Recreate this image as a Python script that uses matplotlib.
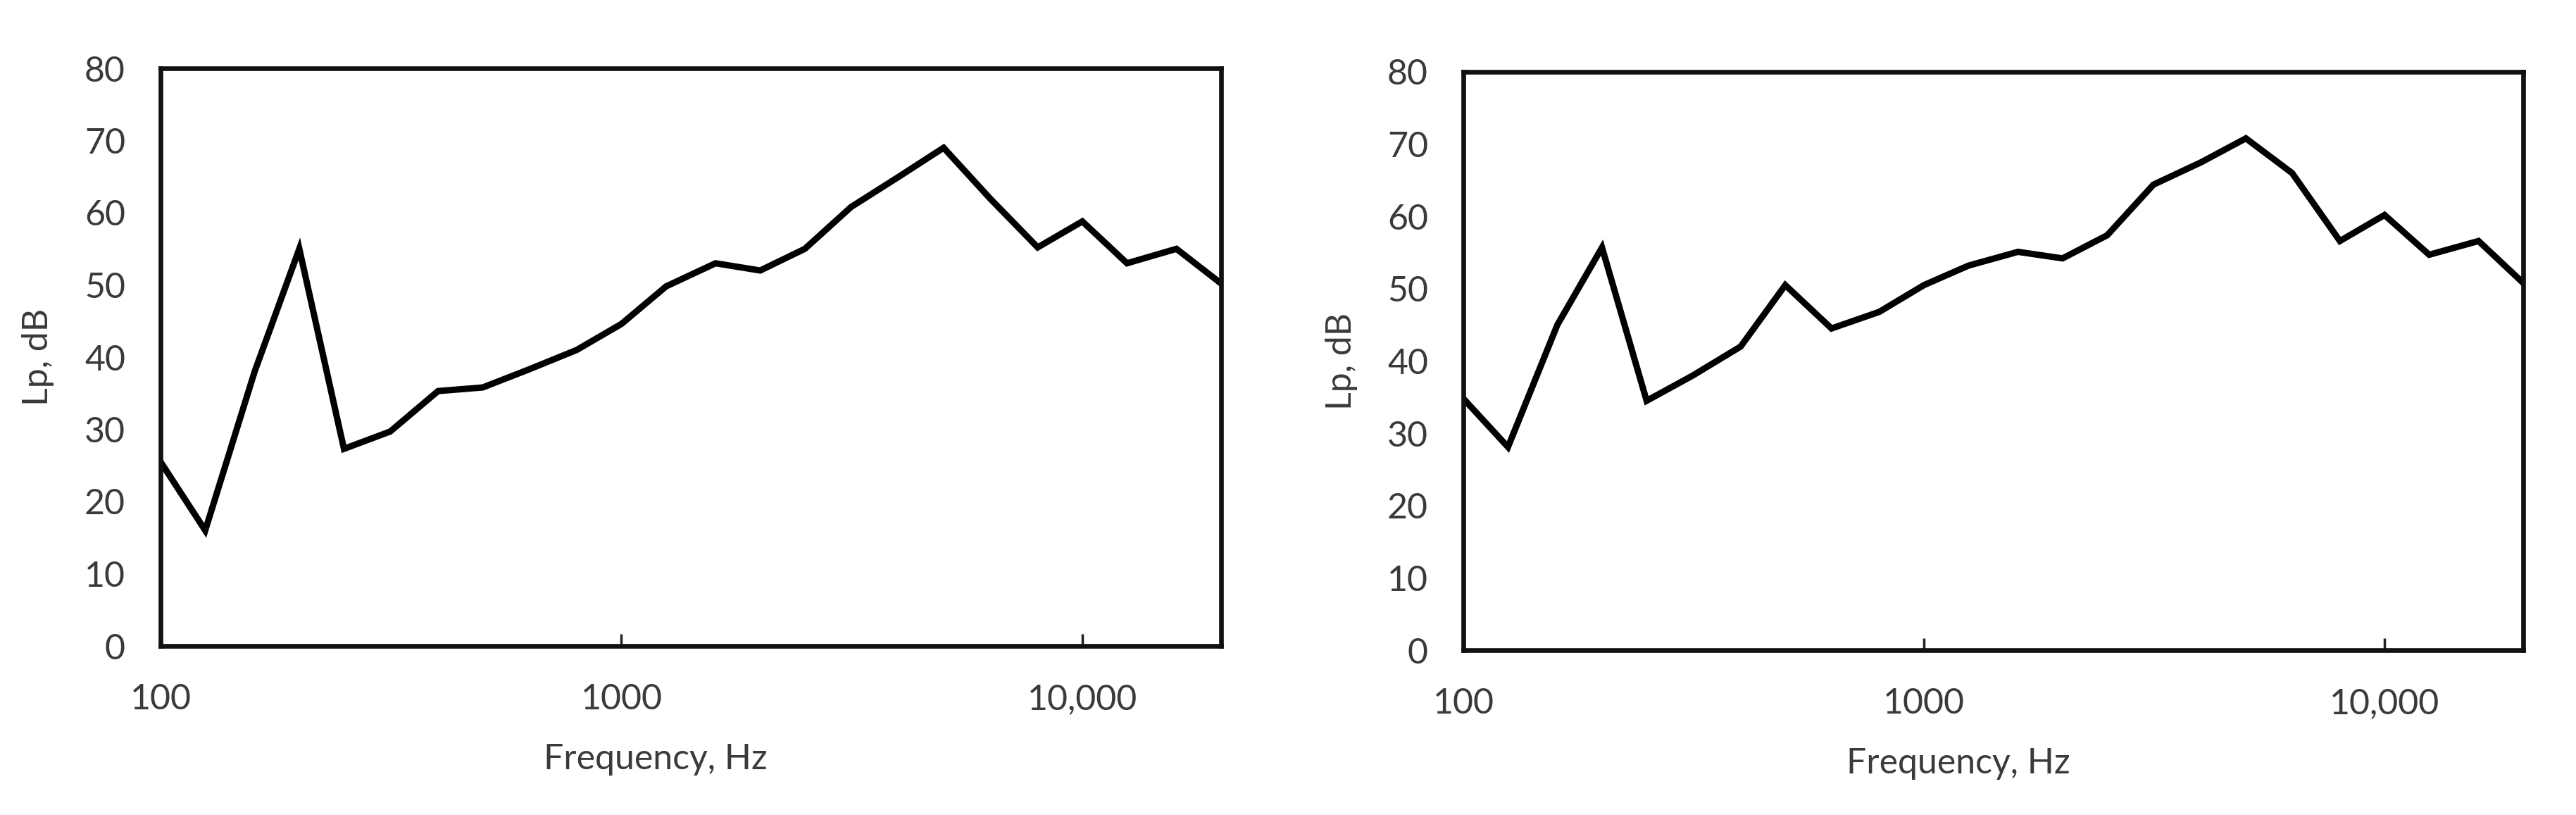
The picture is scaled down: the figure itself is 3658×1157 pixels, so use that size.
import matplotlib
matplotlib.use("Agg")
from matplotlib import pyplot as plt
from matplotlib.ticker import FixedLocator, NullLocator, FixedFormatter

plt.rcParams['font.family'] = ['Lato', 'DejaVu Sans']

# 1/3-octave band centres, Hz
freqs = [100, 125, 160, 200, 250, 315, 400, 500, 630, 800, 1000, 1250,
         1600, 2000, 2500, 3150, 4000, 5000, 6300, 8000, 10000, 12500, 16000, 20000]

# sound pressure level, dB (left panel)
lp_left = [25.5, 16, 38, 55, 27.3, 29.7, 35.3, 35.8, 38.3, 41, 44.6, 49.8,
           53, 52, 55, 60.8, 65, 69, 62, 55.2, 58.8, 53, 55, 50.2]

# sound pressure level, dB (right panel)
lp_right = [34.8, 28.1, 45, 55.7, 34.5, 38, 42, 50.5, 44.5, 46.8, 50.5, 53.2,
            55.1, 54.2, 57.4, 64.4, 67.5, 70.8, 66, 56.6, 60.2, 54.7, 56.6, 50.8]

x_ticks = [100, 1000, 10000]
x_ticklabels = ['100', '1000', '10,000']
y_ticks = [0, 10, 20, 30, 40, 50, 60, 70, 80]

text_col = '#3a3a3a'

W, H = 3658, 1157
fig = plt.figure(figsize=(W / 100, H / 100), dpi=100)

# axes boxes in pixels: left, top, right, bottom
boxes = [(228, 97, 1734, 917), (2078, 102, 3583, 923)]
series = [lp_left, lp_right]

for (l, t, r, b), lp in zip(boxes, series):
    ax = fig.add_axes([l / W, 1 - b / H, (r - l) / W, (b - t) / H])
    ax.plot(freqs, lp, color='black', linewidth=6.5, solid_joinstyle='miter')

    ax.set_xscale('log')
    ax.set_xlim(100, 20000)
    ax.set_ylim(0, 80)

    ax.xaxis.set_major_locator(FixedLocator(x_ticks))
    ax.xaxis.set_major_formatter(FixedFormatter(x_ticklabels))
    ax.xaxis.set_minor_locator(NullLocator())
    ax.set_yticks(y_ticks)

    ax.tick_params(axis='x', direction='in', length=12, width=2.5,
                   pad=38, labelsize=36, labelcolor=text_col, color='#222222')
    ax.tick_params(axis='y', length=0, pad=36, labelsize=36, labelcolor=text_col)

    for sp in ax.spines.values():
        sp.set_linewidth(4.8)
        sp.set_color('#111111')

    ax.set_xlabel('Frequency, Hz', fontsize=36, color=text_col)
    ax.set_ylabel('Lp, dB', fontsize=36, color=text_col)
    ax.xaxis.set_label_coords(0.467, -0.168)
    ax.yaxis.set_label_coords(-0.10, 0.5)

fig.savefig('out.png', dpi=100, facecolor='white')
